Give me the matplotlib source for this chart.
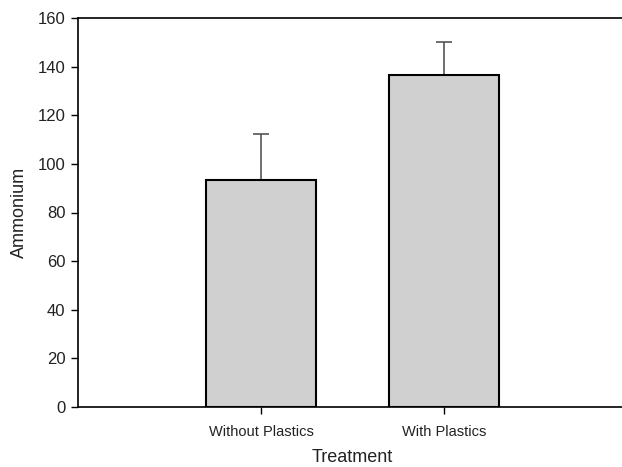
import matplotlib
matplotlib.use('Agg')
import matplotlib.pyplot as plt
import numpy as np

# 数据
treatments = ['Without Plastics', 'With Plastics']
ammonium = [93.5, 136.5]
ammonium_err = [18.8, 13.7]

plt.rcParams['font.family'] = ['Liberation Sans', 'DejaVu Sans']

fig = plt.figure(figsize=(6.22, 4.67), dpi=100)
ax = fig.add_axes([78 / 622, 1 - 407 / 467, 549 / 622, 389 / 467])

x = np.arange(1, len(treatments) + 1)
ax.bar(x, ammonium, width=0.6, color='#d0d0d0', edgecolor='black', linewidth=1.5, zorder=2)
# 只画上半部分误差线
ax.errorbar(x, ammonium, yerr=[np.zeros(len(x)), ammonium_err], fmt='none',
            ecolor='#555555', elinewidth=1.2, capsize=6, capthick=1.2, zorder=1)

ax.set_xlim(0, 3)
ax.set_ylim(0, 160)
ax.set_yticks(np.arange(0, 161, 20))
ax.set_xticks(x)
ax.set_xticklabels(treatments, fontsize=10.5, color='#222222')
ax.tick_params(axis='y', labelsize=12, length=5, width=1, pad=4, labelcolor='#222222')
ax.tick_params(axis='x', length=5, width=1, pad=8)
ax.spines['right'].set_visible(False)
for s in ['left', 'top', 'bottom']:
    ax.spines[s].set_linewidth(1.2)
ax.set_xlabel('Treatment', fontsize=13, labelpad=7, color='#222222')
ax.set_ylabel('Ammonium', fontsize=13, labelpad=7, color='#222222')

fig.savefig('out.png', dpi=100)
